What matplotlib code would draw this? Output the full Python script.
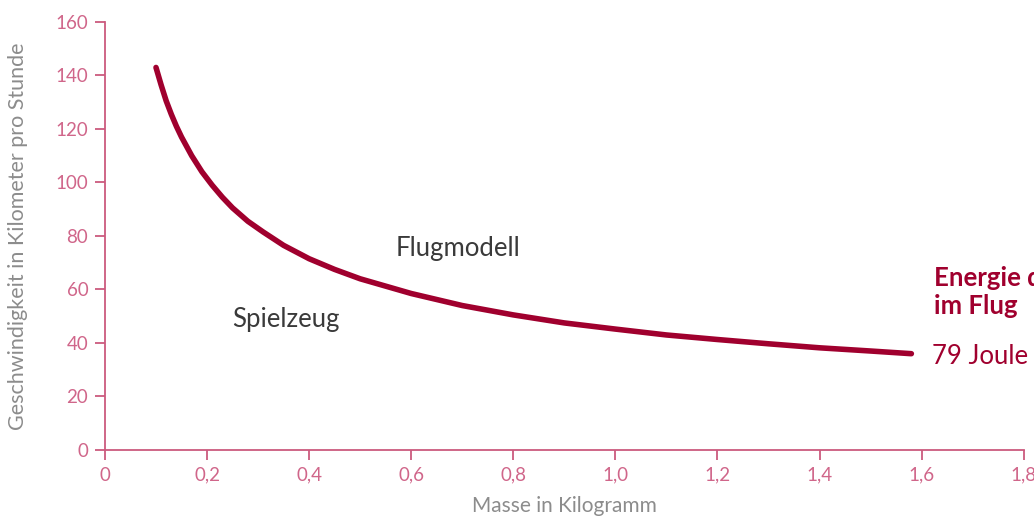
import matplotlib
matplotlib.use("Agg")
import matplotlib.pyplot as plt
from matplotlib.ticker import FixedLocator, FuncFormatter

# Masse (kg) und Geschwindigkeit (km/h)
masse = [0.10, 0.11, 0.12, 0.13, 0.14, 0.15, 0.17, 0.19, 0.21, 0.23,
         0.25, 0.28, 0.31, 0.35, 0.40, 0.45, 0.50, 0.60, 0.70, 0.80,
         0.90, 1.00, 1.10, 1.20, 1.30, 1.40, 1.50, 1.58]
geschw = [143, 136.5, 130.5, 125.5, 121, 117, 110, 104, 99, 94.5,
          90.5, 85.5, 81.5, 76.5, 71.5, 67.5, 64, 58.5, 54, 50.5,
          47.5, 45.2, 43, 41.3, 39.7, 38.2, 37, 36]

x_ticks = [0, 0.2, 0.4, 0.6, 0.8, 1.0, 1.2, 1.4, 1.6, 1.8]
y_ticks = [0, 20, 40, 60, 80, 100, 120, 140, 160]

dark_red = "#a0002e"
pink = "#cc5a7e"
grey = "#8c8c8c"

plt.rcParams["font.family"] = ["Lato", "DejaVu Sans"]

fig = plt.figure(figsize=(10.34, 5.21), dpi=100)
ax = fig.add_axes([0.1015, 0.1363, 0.8885, 0.8215])

ax.plot(masse, geschw, color=dark_red, lw=4, solid_capstyle="round",
        solid_joinstyle="round")

ax.set_xlim(0, 1.8)
ax.set_ylim(0, 160)
ax.xaxis.set_major_locator(FixedLocator(x_ticks))
ax.yaxis.set_major_locator(FixedLocator(y_ticks))
ax.xaxis.set_major_formatter(FuncFormatter(
    lambda v, p: "0" if v == 0 else f"{v:.1f}".replace(".", ",")))

for side in ["top", "right"]:
    ax.spines[side].set_visible(False)
for side in ["left", "bottom"]:
    ax.spines[side].set_color(pink)
    ax.spines[side].set_linewidth(1.3)

ax.tick_params(axis="both", colors=pink, labelcolor="#d0668a", length=7,
               width=1.3, labelsize=13.5)
ax.tick_params(axis="x", pad=5)
ax.tick_params(axis="y", pad=5)

ax.set_xlabel("Masse in Kilogramm", color=grey, fontsize=15, labelpad=9)
ax.set_ylabel("Geschwindigkeit in Kilometer pro Stunde", color=grey,
              fontsize=15.5, labelpad=20)

ax.text(0.57, 75.5, "Flugmodell", fontsize=18.5, color="#3a3a3a",
        va="center", ha="left")
ax.text(0.249, 48.6, "Spielzeug", fontsize=18.5, color="#3a3a3a",
        va="center", ha="left")
ax.text(1.625, 59, "Energie des Objekts\nim Flug", fontsize=18.5,
        color=dark_red, fontweight="bold", va="center", ha="left",
        linespacing=1.2, clip_on=False)
ax.text(1.62, 35, "79 Joule", fontsize=18.5, color=dark_red,
        va="center", ha="left", clip_on=False)

fig.savefig("out.png", dpi=100)
plt.close(fig)
